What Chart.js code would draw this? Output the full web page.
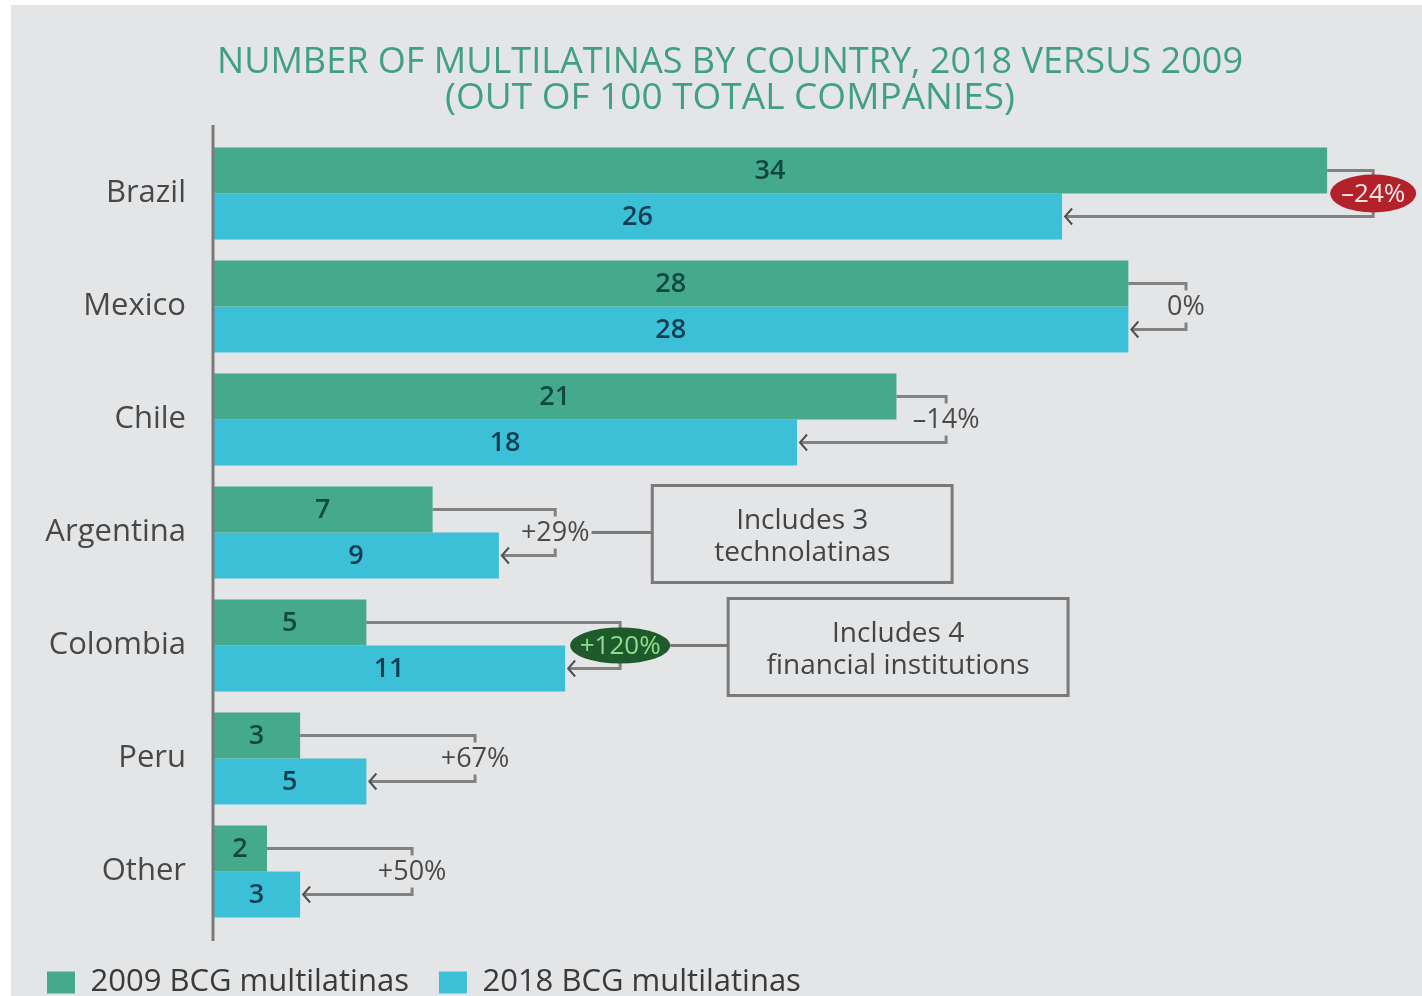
<!DOCTYPE html>
<html>
<head>
<meta charset="utf-8">
<title>Multilatinas by country</title>
<script src="https://cdn.jsdelivr.net/npm/chart.js@4.4.1/dist/chart.umd.min.js"></script>
<style>
  html, body { margin: 0; padding: 0; background: #fff; overflow: hidden; }
  canvas { display: block; }
</style>
</head>
<body>
<canvas id="myChart" width="1422" height="1008"></canvas>
<script>
// data
const countries = ["Brazil", "Mexico", "Chile", "Argentina", "Colombia", "Peru", "Other"];
const count2009 = [34, 28, 21, 7, 5, 3, 2];
const count2018 = [26, 28, 18, 9, 11, 5, 3];
const seriesNames = ["2009 BCG multilatinas", "2018 BCG multilatinas"];
const titleLines = ["NUMBER OF MULTILATINAS BY COUNTRY, 2018 VERSUS 2009", "(OUT OF 100 TOTAL COMPANIES)"];
const noteCountries = ["Argentina", "Colombia"];
const noteTexts = [["Includes 3", "technolatinas"], ["Includes 4", "financial institutions"]];

// layout of the change brackets and note boxes (x in axis units past the longer bar)
const bracketGap = [1.39, 1.74, 1.5, 1.7, 1.66, 3.28, 3.38];
const noteBoxX = [[13.63, 22.68], [15.92, 26.18]];
const badgeStyle = {
  Brazil: { fill: "#b3222b", text: "#ffe6e6", rx: 43, ry: 19 },
  Colombia: { fill: "#1e5a2b", text: "#8fdc8f", rx: 50, ry: 18 }
};

const GREEN = "#45aa8c";
const CYAN = "#3cc0d7";
const BG = "#e4e5e7";
const FONT = '"Open Sans", "Liberation Sans", sans-serif';

function changeLabel(i) {
  const pct = Math.round((count2018[i] - count2009[i]) / count2009[i] * 100);
  if (pct > 0) return "+" + pct + "%";
  if (pct < 0) return "\u2013" + Math.abs(pct) + "%";
  return "0%";
}

const backdrop = {
  id: "backdrop",
  beforeDraw(chart) {
    const { ctx, width, height } = chart;
    ctx.save();
    ctx.fillStyle = "#fff";
    ctx.fillRect(0, 0, width, height);
    ctx.fillStyle = BG;
    ctx.fillRect(11, 5, width - 11, height - 5);

    ctx.fillStyle = "#42a082";
    ctx.textAlign = "center";
    ctx.textBaseline = "middle";
    ctx.font = "37px " + FONT;
    ctx.fillText(titleLines[0], 730, 62, 1026);
    ctx.fillText(titleLines[1], 730, 98, 1026);
    ctx.restore();
  }
};

const annotations = {
  id: "annotations",
  afterDatasetsDraw(chart) {
    const { ctx, chartArea, scales: { x, y } } = chart;
    const bars09 = chart.getDatasetMeta(0).data;
    const bars18 = chart.getDatasetMeta(1).data;
    ctx.save();

    // axis line, a little longer than the plot area
    ctx.strokeStyle = "#7a7a7a";
    ctx.lineWidth = 3;
    ctx.beginPath();
    ctx.moveTo(chartArea.left, chartArea.top - 12);
    ctx.lineTo(chartArea.left, chartArea.bottom + 13);
    ctx.stroke();

    // values inside the bars
    ctx.textAlign = "center";
    ctx.textBaseline = "middle";
    ctx.font = "600 27px " + FONT;
    countries.forEach((c, i) => {
      const a = bars09[i], b = bars18[i];
      ctx.fillStyle = "#11483f";
      ctx.fillText(count2009[i], (chartArea.left + a.x) / 2, a.y + 1);
      ctx.fillStyle = "#0f3e52";
      ctx.fillText(count2018[i], (chartArea.left + b.x) / 2, b.y + 1);
    });

    // change brackets
    const labelEnds = [];
    countries.forEach((c, i) => {
      const a = bars09[i], b = bars18[i];
      const xb = x.getPixelForValue(Math.max(count2009[i], count2018[i]) + bracketGap[i]);
      const ym = (a.y + b.y) / 2;
      ctx.strokeStyle = "#828282";
      ctx.lineWidth = 3;
      ctx.beginPath();
      ctx.moveTo(a.x, a.y);
      ctx.lineTo(xb, a.y);
      ctx.lineTo(xb, b.y);
      ctx.lineTo(b.x + 3, b.y);
      ctx.stroke();

      ctx.strokeStyle = "#4f4f4f";
      ctx.lineWidth = 2;
      ctx.beginPath();
      ctx.moveTo(b.x + 10, b.y - 8);
      ctx.lineTo(b.x + 3, b.y);
      ctx.lineTo(b.x + 10, b.y + 8);
      ctx.stroke();

      const txt = changeLabel(i);
      const badge = badgeStyle[c];
      if (badge) {
        ctx.fillStyle = badge.fill;
        ctx.beginPath();
        ctx.ellipse(xb, ym, badge.rx, badge.ry, 0, 0, Math.PI * 2);
        ctx.fill();
        ctx.fillStyle = badge.text;
        ctx.font = "26px " + FONT;
        ctx.fillText(txt, xb, ym + 1);
        labelEnds[i] = xb + badge.rx;
      } else {
        ctx.font = "27px " + FONT;
        const w = ctx.measureText(txt).width;
        ctx.fillStyle = BG;
        ctx.fillRect(xb - w / 2 - 2, ym - 16, w + 4, 32);
        ctx.fillStyle = "#4a4a4a";
        ctx.fillText(txt, xb, ym + 1);
        labelEnds[i] = xb + w / 2 + 2;
      }
    });

    // note boxes with connectors
    noteCountries.forEach((c, k) => {
      const i = countries.indexOf(c);
      const yc = y.getPixelForValue(i);
      const x0 = x.getPixelForValue(noteBoxX[k][0]);
      const x1 = x.getPixelForValue(noteBoxX[k][1]);
      const top = yc - 47, bottom = yc + 50;
      ctx.strokeStyle = "#7a7a7a";
      ctx.lineWidth = 3;
      ctx.strokeRect(x0, top, x1 - x0, bottom - top);
      ctx.beginPath();
      ctx.moveTo(labelEnds[i], yc);
      ctx.lineTo(x0, yc);
      ctx.stroke();
      ctx.fillStyle = "#444";
      ctx.font = "28px " + FONT;
      ctx.fillText(noteTexts[k][0], (x0 + x1) / 2, yc - 11);
      ctx.fillText(noteTexts[k][1], (x0 + x1) / 2, yc + 21);
    });

    ctx.restore();
  }
};

const data = {
  labels: countries,
  datasets: [
    {
      label: seriesNames[0],
      data: count2009,
      backgroundColor: GREEN,
      borderWidth: 0,
      barPercentage: 1,
      categoryPercentage: 0.814
    },
    {
      label: seriesNames[1],
      data: count2018,
      backgroundColor: CYAN,
      borderWidth: 0,
      barPercentage: 1,
      categoryPercentage: 0.814
    }
  ]
};

const config = {
  type: "bar",
  data,
  options: {
    indexAxis: "y",
    responsive: false,
    animation: false,
    layout: { padding: { left: 17, right: 22, top: 137, bottom: 0 } },
    scales: {
      x: {
        position: "bottom",
        min: 0.37,
        max: 36.2,
        grid: { display: false },
        border: { display: false },
        ticks: { display: false },
        afterFit(scale) { scale.height = 9; }
      },
      y: {
        grid: { display: false, drawTicks: false },
        border: { display: false },
        ticks: {
          color: "#484848",
          padding: 27,
          font: { family: FONT, size: 31 }
        },
        afterFit(scale) { scale.width = 196; }
      }
    },
    plugins: {
      legend: {
        position: "bottom",
        align: "start",
        labels: {
          boxWidth: 28,
          boxHeight: 22,
          padding: 30,
          color: "#3a3a3a",
          font: { family: FONT, size: 31 }
        }
      },
      tooltip: { enabled: false }
    }
  },
  plugins: [backdrop, annotations]
};

var myChart = new Chart(document.getElementById("myChart"), config);
</script>
</body>
</html>
